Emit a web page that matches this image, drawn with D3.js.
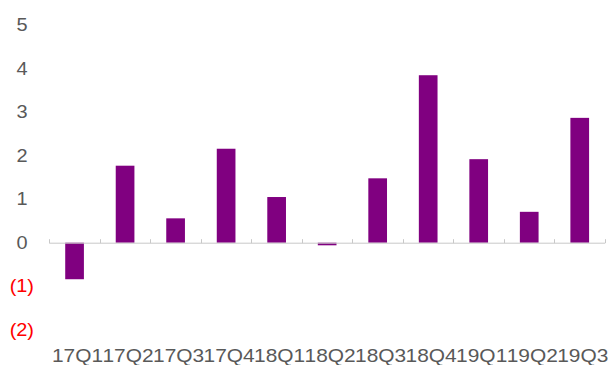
<!DOCTYPE html>
<html>
<head>
<meta charset="utf-8">
<script src="https://cdn.jsdelivr.net/npm/d3@7"></script>
<style>
  html, body { margin: 0; padding: 0; background: #fff; }
  svg { display: block; font-family: "Liberation Sans", Arial, sans-serif; }
</style>
</head>
<body>
<svg id="chart" width="608" height="365"></svg>
<script>
// Quarterly values
const quarters = ["17Q1", "17Q2", "17Q3", "17Q4", "18Q1", "18Q2", "18Q3", "18Q4", "19Q1", "19Q2", "19Q3"];
const values = [-0.84, 1.77, 0.56, 2.16, 1.05, -0.06, 1.48, 3.85, 1.92, 0.71, 2.87];
const yTicks = [5, 4, 3, 2, 1, 0, -1, -2];

const svg = d3.select("#chart");

const x = d3.scaleBand()
  .domain(quarters)
  .range([49.3, 605])
  .paddingInner(0.63)
  .paddingOuter(0.315);

const y = d3.scaleLinear()
  .domain([-2, 5])
  .range([329.7, 25.2]);

const barColor = "#800080";
const textColor = "#595959";

// labels are set slightly wide
function stretch(factor) {
  return sel => sel.each(function () {
    const w = this.getComputedTextLength();
    d3.select(this)
      .attr("textLength", w * factor)
      .attr("lengthAdjust", "spacingAndGlyphs");
  });
}

// y-axis labels (accounting style: negatives in red parentheses)
const fmt = v => v < 0 ? "(" + Math.abs(v) + ")" : String(v);
const yAxis = svg.append("g")
  .attr("transform", "translate(34,0)")
  .call(d3.axisLeft(y).tickValues(yTicks).tickFormat(fmt).tickSize(0).tickPadding(0));
yAxis.select(".domain").remove();
yAxis.attr("font-size", null).attr("font-family", null);
yAxis.selectAll(".tick text")
  .attr("font-size", 17.5)
  .attr("fill", d => d < 0 ? "#ff0000" : textColor)
  .attr("dx", d => d < 0 ? 0 : -6.4)
  .call(stretch(1.14));

// bars
svg.append("g").selectAll("rect")
  .data(values)
  .join("rect")
  .attr("x", (d, i) => x(quarters[i]))
  .attr("width", x.bandwidth())
  .attr("y", d => y(Math.max(0, d)))
  .attr("height", d => Math.abs(y(d) - y(0)))
  .attr("fill", barColor);

// category axis along zero with boundary ticks
const step = x.step();
const x0 = x.range()[0];
const axisG = svg.append("g").attr("stroke", "#c8c8c8").attr("stroke-width", 1);
axisG.append("line")
  .attr("x1", x0).attr("x2", x.range()[1])
  .attr("y1", y(0) + 0.5).attr("y2", y(0) + 0.5);
axisG.selectAll("line.tick")
  .data(d3.range(quarters.length + 1))
  .join("line")
  .attr("class", "tick")
  .attr("x1", i => Math.round(x0 + i * step) + 0.5)
  .attr("x2", i => Math.round(x0 + i * step) + 0.5)
  .attr("y1", y(0) - 3.5)
  .attr("y2", y(0) + 0.5);

// category labels
svg.append("g").selectAll("text")
  .data(quarters)
  .join("text")
  .attr("x", d => x(d) + x.bandwidth() / 2 + 3)
  .attr("y", 361.5)
  .attr("text-anchor", "middle")
  .attr("font-size", 19)
  .attr("fill", textColor)
  .text(d => d)
  .call(stretch(1.1));
</script>
</body>
</html>
